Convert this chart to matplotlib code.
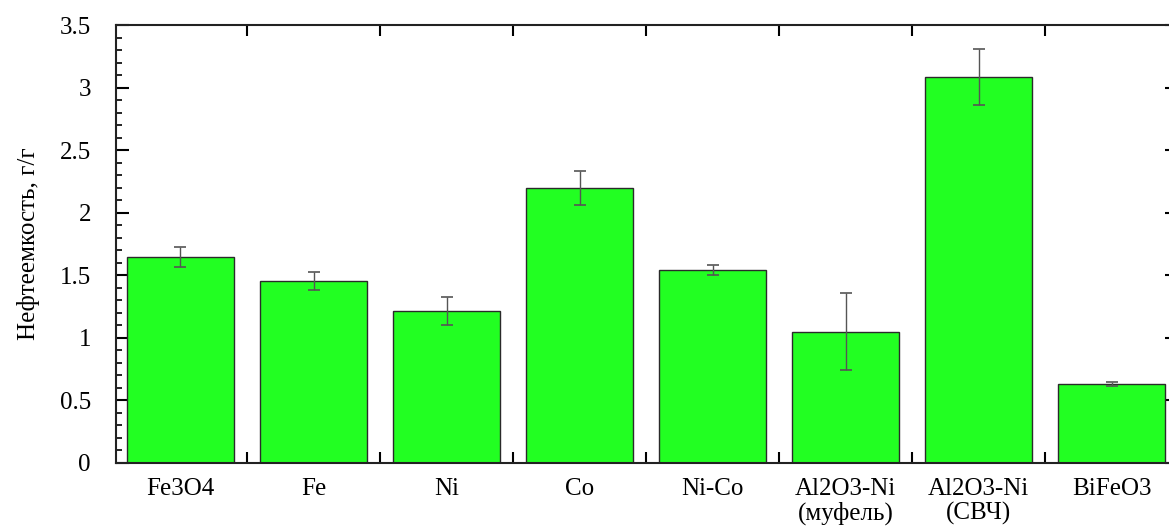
import numpy as np
import matplotlib
matplotlib.use('Agg')
import matplotlib.pyplot as plt
from matplotlib.ticker import MultipleLocator

plt.rcParams['font.family'] = ['Liberation Serif', 'DejaVu Serif']
plt.rcParams['font.size'] = 18.

names = ['Fe3O4', 'Fe', 'Ni', 'Co', 'Ni-Co', 'Al2O3-Ni\n(муфель)',
         'Al2O3-Ni\n(СВЧ)', 'BiFeO3']
values = [1.65, 1.455, 1.215, 2.195, 1.545, 1.05, 3.085, 0.63]
errors = [0.08, 0.07, 0.11, 0.135, 0.04, 0.31, 0.225, 0.015]

xs = np.arange(len(names))

fig = plt.figure(figsize=(11.69, 5.32), dpi=100)
ax = fig.add_axes([0.0992, 0.1297, 0.9075, 0.8233])

ax.bar(xs, values, width=0.8, color='#22ff22', edgecolor='#2a2a2a',
       linewidth=1.0, zorder=2)
ax.errorbar(xs, values, yerr=errors, fmt='none', ecolor='#555555',
            elinewidth=1.0, capsize=4, capthick=1.2, zorder=3)

ax.set_xlim(-0.485, 7.49)
ax.set_ylim(0, 3.5)

# category borders get the tick marks, labels sit under the bars
ax.set_xticks(xs[:-1] + 0.5)
ax.set_xticklabels([])
ax.set_xticks(xs, minor=True)
ax.set_xticklabels(names, minor=True, linespacing=1.1)
ax.tick_params(axis='x', which='major', direction='in', length=8,
               width=1.5, top=True, bottom=True)
ax.tick_params(axis='x', which='minor', length=0, pad=11)

ax.yaxis.set_major_locator(MultipleLocator(0.5))
ax.yaxis.set_minor_locator(MultipleLocator(0.1))
ax.set_yticks(np.arange(0, 3.51, 0.5))
ax.set_yticklabels(['0', '0.5', '1', '1.5', '2', '2.5', '3', '3.5'])
ax.tick_params(axis='y', which='major', direction='in', length=9,
               width=1.5, left=True, right=True, pad=18)
ax.tick_params(axis='y', which='minor', direction='in', length=4,
               width=1.2, left=True, right=True)

for sp in ax.spines.values():
    sp.set_linewidth(1.5)
    sp.set_color('#222222')

ax.set_ylabel('Нефтеемкость, г/г', fontsize=18)
ax.yaxis.set_label_coords(-0.072, 0.5)

fig.savefig('out.png', dpi=100)
